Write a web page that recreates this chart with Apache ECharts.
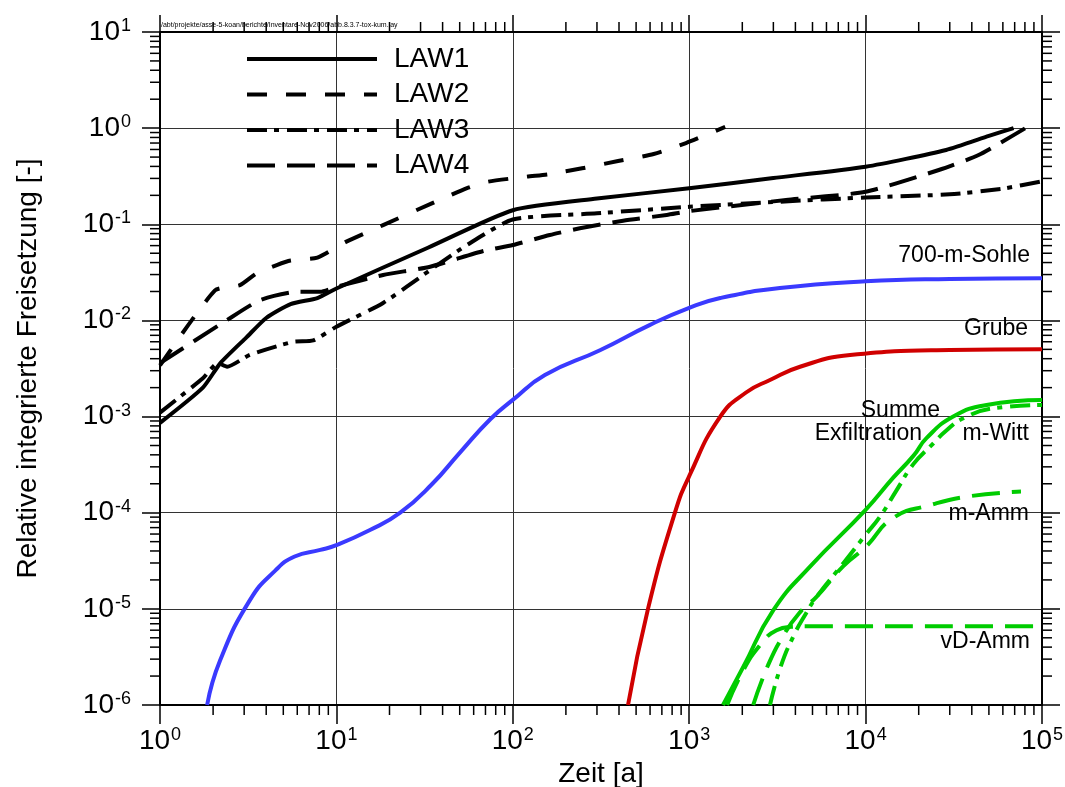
<!DOCTYPE html>
<html><head><meta charset="utf-8">
<script src="https://cdn.jsdelivr.net/npm/echarts@6/dist/echarts.min.js"></script>
<style>html,body{margin:0;padding:0;background:#fff}#c{width:1065px;height:787px}</style>
</head><body><div id="c"></div>
<script>
// ---- data (time [a], relative integrated release [-]) ----
const LAW1 = [[1,8.6e-4],[1.75,2.0e-3],[2.2,3.6e-3],[3.1,6.7e-3],[4.0,1.06e-2],[5.5,1.48e-2],[7.8,1.71e-2],[10,2.15e-2],[33,5.7e-2],[100,0.14],[300,0.185],[1000,0.237],[3000,0.303],[10000,0.397],[28600,0.593],[50000,0.83],[69000,1.0]];
const LAW2 = [[1,3.4e-3],[2.05,2.05e-2],[2.84,2.33e-2],[3.53,3.09e-2],[4.59,3.77e-2],[5.5,4.2e-2],[7.8,4.5e-2],[11.4,6.6e-2],[18.4,9.8e-2],[35,0.166],[55,0.238],[72,0.277],[120,0.313],[162,0.333],[247,0.382],[395,0.455],[629,0.538],[959,0.70],[1600,1.03]];
const LAW3 = [[1,1.1e-3],[1.75,2.5e-3],[2.13,3.6e-3],[2.4,3.3e-3],[3.24,4.4e-3],[5.7,6.0e-3],[7.4,6.2e-3],[10,8.6e-3],[18.4,1.52e-2],[34,3.34e-2],[55,6.1e-2],[100,0.112],[300,0.13],[1000,0.152],[3300,0.172],[10000,0.19],[30000,0.205],[60000,0.235],[100000,0.28]];
const LAW4 = [[1,3.6e-3],[2.4,1.01e-2],[3.7,1.63e-2],[6,1.99e-2],[8.1,1.99e-2],[10,2.24e-2],[18.4,2.97e-2],[34,3.62e-2],[68,5.27e-2],[100,6.08e-2],[162,7.74e-2],[240,9.08e-2],[422,0.109],[745,0.125],[1000,0.137],[3540,0.179],[10000,0.218],[26000,0.367],[43700,0.526],[80100,0.995]];
const SOHLE700 = [[1.85,1e-6],[2.19,2.9e-6],[3.24,1.24e-5],[4.5,2.5e-5],[5.8,3.5e-5],[8.1,4.1e-5],[10,4.6e-5],[15.5,6.6e-5],[23,1.0e-4],[35,2.0e-4],[50,4.2e-4],[75,9.5e-4],[100,1.49e-3],[152,2.7e-3],[312,4.9e-3],[600,9.0e-3],[1000,1.35e-2],[1500,1.71e-2],[3270,2.17e-2],[10000,2.55e-2],[30000,2.7e-2],[100000,2.75e-2]];
const GRUBE = [[450,1e-6],[584,1e-5],[830,1e-4],[1000,2.4e-4],[1500,1.0e-3],[2100,1.78e-3],[2870,2.4e-3],[4250,3.3e-3],[8170,4.37e-3],[30000,4.92e-3],[100000,5.0e-3]];
const SUMME = [[1555,1e-6],[2028,2.5e-6],[3000,9.7e-6],[4840,2.75e-5],[10000,1.07e-4],[14300,2.3e-4],[18650,3.9e-4],[22200,6.0e-4],[31400,1.0e-3],[48500,1.32e-3],[100000,1.49e-3]];
const M_WITT = [[2870,1e-6],[3300,2.5e-6],[3900,5.2e-6],[4600,9e-6],[5300,1.35e-5],[7500,3.0e-5],[10000,5.9e-5],[12070,9.1e-5],[15000,1.72e-4],[18650,3.2e-4],[23200,4.86e-4],[28800,7.2e-4],[35800,9.6e-4],[53000,1.22e-3],[100000,1.32e-3]];
const M_AMM = [[2306,1e-6],[2800,2.6e-6],[3400,5.2e-6],[4200,9e-6],[5300,1.35e-5],[7500,2.8e-5],[10000,4.4e-5],[14300,8.8e-5],[23200,1.2e-4],[37400,1.47e-4],[76000,1.66e-4]];
const VD_AMM = [[1640,1e-6],[2000,2.2e-6],[2520,4.2e-6],[3130,6.0e-6],[3810,6.5e-6],[5000,6.6e-6],[100000,6.6e-6]];

const X_RANGE = [1, 1e5];
const Y_RANGE = [1e-6, 10];
const LEGEND_NAMES = ['LAW1','LAW2','LAW3','LAW4'];
const PATH_TEXT = '/abt/projekte/asse-5-koan/berichte/Inventare-Nov2006/abb.8.3.7-tox-kum.lay';

const FONT = '"Liberation Sans", Arial, Helvetica, sans-serif';
const BLACK = '#000000', BLUE = '#3a3aff', RED = '#d00000', GREEN = '#00cc00';
const DASH = [20, 19], DASHDOT = [20, 7, 5, 8], LONGDASH = [28, 12];

function minorTicks(lo, hi) {
  const r = [];
  for (let e = lo; e < hi; e++) for (let m = 2; m <= 9; m++) r.push(+(m * Math.pow(10, e)).toPrecision(3));
  return r;
}
const xMinor = minorTicks(0, 5);
const yMinor = minorTicks(-6, 1);

function expLabel(v) {
  const e = Math.round(Math.log10(v));
  return '{b|10}{e|' + e + '}';
}
const labelRich = {
  b: { fontSize: 28, fontFamily: FONT, color: '#000', lineHeight: 30 },
  e: { fontSize: 18, fontFamily: FONT, color: '#000', verticalAlign: 'top', lineHeight: 30, padding: [0, 0, 0, 1] }
};

function line(name, data, color, type, smooth) {
  return {
    name, type: 'line', data, symbol: 'none', showSymbol: false, smooth: smooth,
    lineStyle: { color, width: 4, type, cap: 'butt', join: 'round' },
    itemStyle: { color }, z: 3, animation: false
  };
}

function tickSeries(vals, side) {
  return {
    type: 'custom', silent: true, clip: false, z: 6, animation: false,
    data: vals.map(v => (side === 'bottom' || side === 'top')
      ? [v, side === 'bottom' ? Y_RANGE[0] : Y_RANGE[1]]
      : [side === 'left' ? X_RANGE[0] : X_RANGE[1], v]),
    renderItem: function (params, api) {
      const p = api.coord([api.value(0), api.value(1)]);
      const L = 10;
      let x2 = p[0], y2 = p[1];
      if (side === 'bottom') y2 += L; else if (side === 'top') y2 -= L;
      else if (side === 'left') x2 -= L; else x2 += L;
      return { type: 'line', shape: { x1: p[0], y1: p[1], x2: x2, y2: y2 }, style: { stroke: '#000', lineWidth: 1.5 } };
    }
  };
}

const axisLineStyle = { show: true, onZero: false, lineStyle: { color: '#000', width: 2 } };
const tickStyle = (len) => ({ show: true, inside: false, length: len, lineStyle: { color: '#000', width: 1.5 } });

const annotations = [
  { text: '700-m-Sohle', x: 1030, y: 256, align: 'right' },
  { text: 'Grube', x: 1028, y: 329, align: 'right' },
  { text: 'Summe', x: 940, y: 411, align: 'right' },
  { text: 'Exfiltration', x: 922, y: 434, align: 'right' },
  { text: 'm-Witt', x: 1029, y: 434, align: 'right' },
  { text: 'm-Amm', x: 1029, y: 514, align: 'right' },
  { text: 'vD-Amm', x: 1030, y: 642, align: 'right' }
];

const chart = echarts.init(document.getElementById('c'), null, { renderer: 'canvas' });
chart.setOption({
  animation: false,
  backgroundColor: '#fff',
  grid: { left: 160, right: 23, top: 32, bottom: 82, containLabel: false, outerBoundsMode: 'none' },
  legend: {
    data: LEGEND_NAMES, orient: 'vertical', left: 240, top: 40,
    itemWidth: 130, itemHeight: 20, itemGap: 7.5,
    itemStyle: { color: 'rgba(0,0,0,0)', opacity: 0, borderWidth: 0 },
    lineStyle: { width: 4, cap: 'butt' },
    textStyle: { fontSize: 28, fontFamily: FONT, color: '#000', lineHeight: 27, padding: [0, 0, 0, 12] },
    selectedMode: false
  },
  xAxis: [
    {
      type: 'log', logBase: 10, min: X_RANGE[0], max: X_RANGE[1], splitNumber: 5, position: 'bottom',
      name: 'Zeit [a]', nameLocation: 'middle', nameGap: 51,
      nameTextStyle: { fontSize: 28, fontFamily: FONT, color: '#000' },
      axisLine: axisLineStyle, axisTick: tickStyle(19),
      axisLabel: { formatter: expLabel, rich: labelRich, margin: 21, color: '#000' },
      splitLine: { show: true, lineStyle: { color: '#333', width: 1 } }, minorTick: { show: false }
    },
    {
      type: 'log', logBase: 10, min: X_RANGE[0], max: X_RANGE[1], splitNumber: 5, position: 'top',
      axisLine: axisLineStyle, axisTick: tickStyle(17), axisLabel: { show: false }, splitLine: { show: false }
    }
  ],
  yAxis: [
    {
      type: 'log', logBase: 10, min: Y_RANGE[0], max: Y_RANGE[1], splitNumber: 7, position: 'left',
      name: 'Relative integrierte Freisetzung [-]', nameLocation: 'middle', nameGap: 118, nameRotate: 90,
      nameTextStyle: { fontSize: 28, fontFamily: FONT, color: '#000' },
      axisLine: axisLineStyle, axisTick: tickStyle(18),
      axisLabel: { formatter: expLabel, rich: labelRich, margin: 29, color: '#000', align: 'right' },
      splitLine: { show: true, lineStyle: { color: '#333', width: 1 } }, minorTick: { show: false }
    },
    {
      type: 'log', logBase: 10, min: Y_RANGE[0], max: Y_RANGE[1], splitNumber: 7, position: 'right',
      axisLine: axisLineStyle, axisTick: tickStyle(18), axisLabel: { show: false }, splitLine: { show: false }
    }
  ],
  graphic: [
    { type: 'text', x: 161, y: 25, style: { text: PATH_TEXT, fontSize: 7, fontFamily: FONT, fill: '#000', verticalAlign: 'middle' } }
  ].concat(annotations.map(a => ({
    type: 'text', x: a.x, y: a.y, z: 10,
    style: { text: a.text, fontSize: 23, fontFamily: FONT, fill: '#000', align: a.align, verticalAlign: 'middle' }
  }))),
  series: [
    line('LAW1', LAW1, BLACK, 'solid', 0.2),
    line('LAW2', LAW2, BLACK, DASH, 0.2),
    line('LAW3', LAW3, BLACK, DASHDOT, 0.2),
    line('LAW4', LAW4, BLACK, LONGDASH, 0.2),
    line('700-m-Sohle', SOHLE700, BLUE, 'solid', 0.5),
    line('Grube', GRUBE, RED, 'solid', 0.5),
    line('Summe Exfiltration', SUMME, GREEN, 'solid', 0.5),
    line('m-Witt', M_WITT, GREEN, DASHDOT, 0.5),
    line('m-Amm', M_AMM, GREEN, LONGDASH, 0.5),
    line('vD-Amm', VD_AMM, GREEN, LONGDASH, 0.5),
    tickSeries(xMinor, 'bottom'),
    tickSeries(xMinor, 'top'),
    tickSeries(yMinor, 'left'),
    tickSeries(yMinor, 'right')
  ]
});
</script>
</body></html>
